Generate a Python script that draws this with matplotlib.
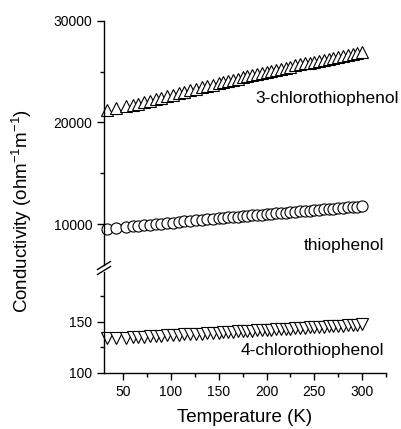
import matplotlib
matplotlib.use("Agg")
import matplotlib.pyplot as plt
from matplotlib.lines import Line2D

plt.rcParams['font.family'] = ['Liberation Sans', 'DejaVu Sans']
plt.rcParams['mathtext.fontset'] = 'custom'
plt.rcParams['mathtext.rm'] = 'Liberation Sans'
plt.rcParams['mathtext.it'] = 'Liberation Sans:italic'

# temperatures (K)
temps = [33, 43, 53, 60, 66, 72, 78, 84, 90, 96, 102, 108, 114, 120, 126, 132,
         138, 144, 150, 155, 160, 165, 170, 175, 180, 185, 190, 195, 200, 205,
         210, 215, 220, 225, 230, 235, 240, 245, 250, 255, 260, 265, 270, 275,
         280, 285, 290, 295, 300]

# conductivity (ohm^-1 m^-1)
cl3 = [21250, 21400, 21580, 21720, 21860, 22000, 22150, 22300, 22440, 22590,
       22740, 22880, 23030, 23170, 23310, 23450, 23580, 23720, 23850, 23960,
       24080, 24190, 24300, 24420, 24530, 24640, 24750, 24860, 24970, 25080,
       25190, 25290, 25400, 25500, 25600, 25700, 25800, 25890, 25980, 26070,
       26160, 26240, 26330, 26410, 26520, 26600, 26680, 26780, 26880]
thio = [9580, 9670, 9750, 9810, 9860, 9910, 9960, 10020, 10070, 10120,
        10170, 10230, 10280, 10330, 10380, 10440, 10490, 10540, 10590, 10640,
        10680, 10720, 10760, 10800, 10840, 10880, 10920, 10960, 11000, 11030,
        11070, 11110, 11150, 11190, 11230, 11270, 11300, 11340, 11380, 11420,
        11460, 11500, 11540, 11570, 11610, 11650, 11690, 11730, 11770]
cl4 = [134.0, 134.2, 134.4, 134.7, 135.0, 135.3, 135.6, 135.9, 136.2, 136.6,
       136.9, 137.2, 137.5, 137.8, 138.1, 138.4, 138.7, 139.1, 139.4, 139.6,
       139.9, 140.2, 140.4, 140.7, 141.0, 141.2, 141.5, 141.8, 142.0, 142.3,
       142.6, 142.8, 143.1, 143.3, 143.6, 143.9, 144.1, 144.4, 144.7, 144.9,
       145.2, 145.4, 145.7, 146.0, 146.2, 146.5, 146.8, 147.0, 147.3]

W, H = 401, 429
fig = plt.figure(figsize=(W / 100, H / 100), dpi=100)

# pixel positions of the two axis pieces
left, right = 104, 386
up_top, up_bot = 20.7, 265
lo_top, lo_bot = 272, 372.7

ax_up = fig.add_axes([left / W, 1 - up_bot / H, (right - left) / W, (up_bot - up_top) / H])
ax_lo = fig.add_axes([left / W, 1 - lo_bot / H, (right - left) / W, (lo_bot - lo_top) / H])

mk = dict(mfc='white', mec='black', mew=0.8, ls='none', clip_on=False)
ax_up.plot(temps, cl3, marker='^', ms=8.5, **mk)
ax_up.plot(temps, thio, marker='o', ms=8, **mk)
ax_lo.plot(temps, cl4, marker='v', ms=8.5, **mk)

for ax in (ax_up, ax_lo):
    ax.set_xlim(30, 325)
    ax.spines['top'].set_visible(False)
    ax.spines['right'].set_visible(False)
    ax.spines['left'].set_linewidth(1.0)
    ax.spines['bottom'].set_linewidth(1.0)
    ax.tick_params(direction='out', length=5, width=1.0, labelsize=10)
    ax.tick_params(which='minor', direction='out', length=3, width=1.0)

ax_up.set_ylim(6000, 30000)
ax_up.set_yticks([10000, 20000, 30000])
ax_up.set_yticks([15000, 25000], minor=True)
ax_up.spines['bottom'].set_visible(False)
ax_up.set_xticks([])
ax_up.tick_params(axis='x', which='both', bottom=False, labelbottom=False)

ax_lo.set_ylim(100, 198.7)
ax_lo.set_yticks([100, 150])
ax_lo.set_yticks([125, 175], minor=True)
ax_lo.set_xticks([50, 100, 150, 200, 250, 300])
ax_lo.set_xticks([75, 125, 175, 225, 275, 325], minor=True)

# series labels
ax_up.text(338.7, 22400, '3-chlorothiophenol', ha='right', va='center', fontsize=12.5)
ax_up.text(323, 7930, 'thiophenol', ha='right', va='center', fontsize=12.5)
ax_lo.text(323, 121.6, '4-chlorothiophenol', ha='right', va='center', fontsize=12.5)

fig.text(244.5 / W, 1 - 417 / H, 'Temperature (K)', ha='center', va='center', fontsize=13.5)
fig.text(22 / W, 1 - 211 / H, 'Conductivity (ohm$^{-1}$m$^{-1}$)', ha='center', va='center',
         rotation=90, fontsize=13.5)

# axis break marks
for cy in (265.5, 270.5):
    fig.add_artist(Line2D([97.5 / W, 110.5 / W], [1 - (cy + 4) / H, 1 - (cy - 4) / H],
                          color='black', lw=1.0))

fig.savefig('out.png', dpi=100)
